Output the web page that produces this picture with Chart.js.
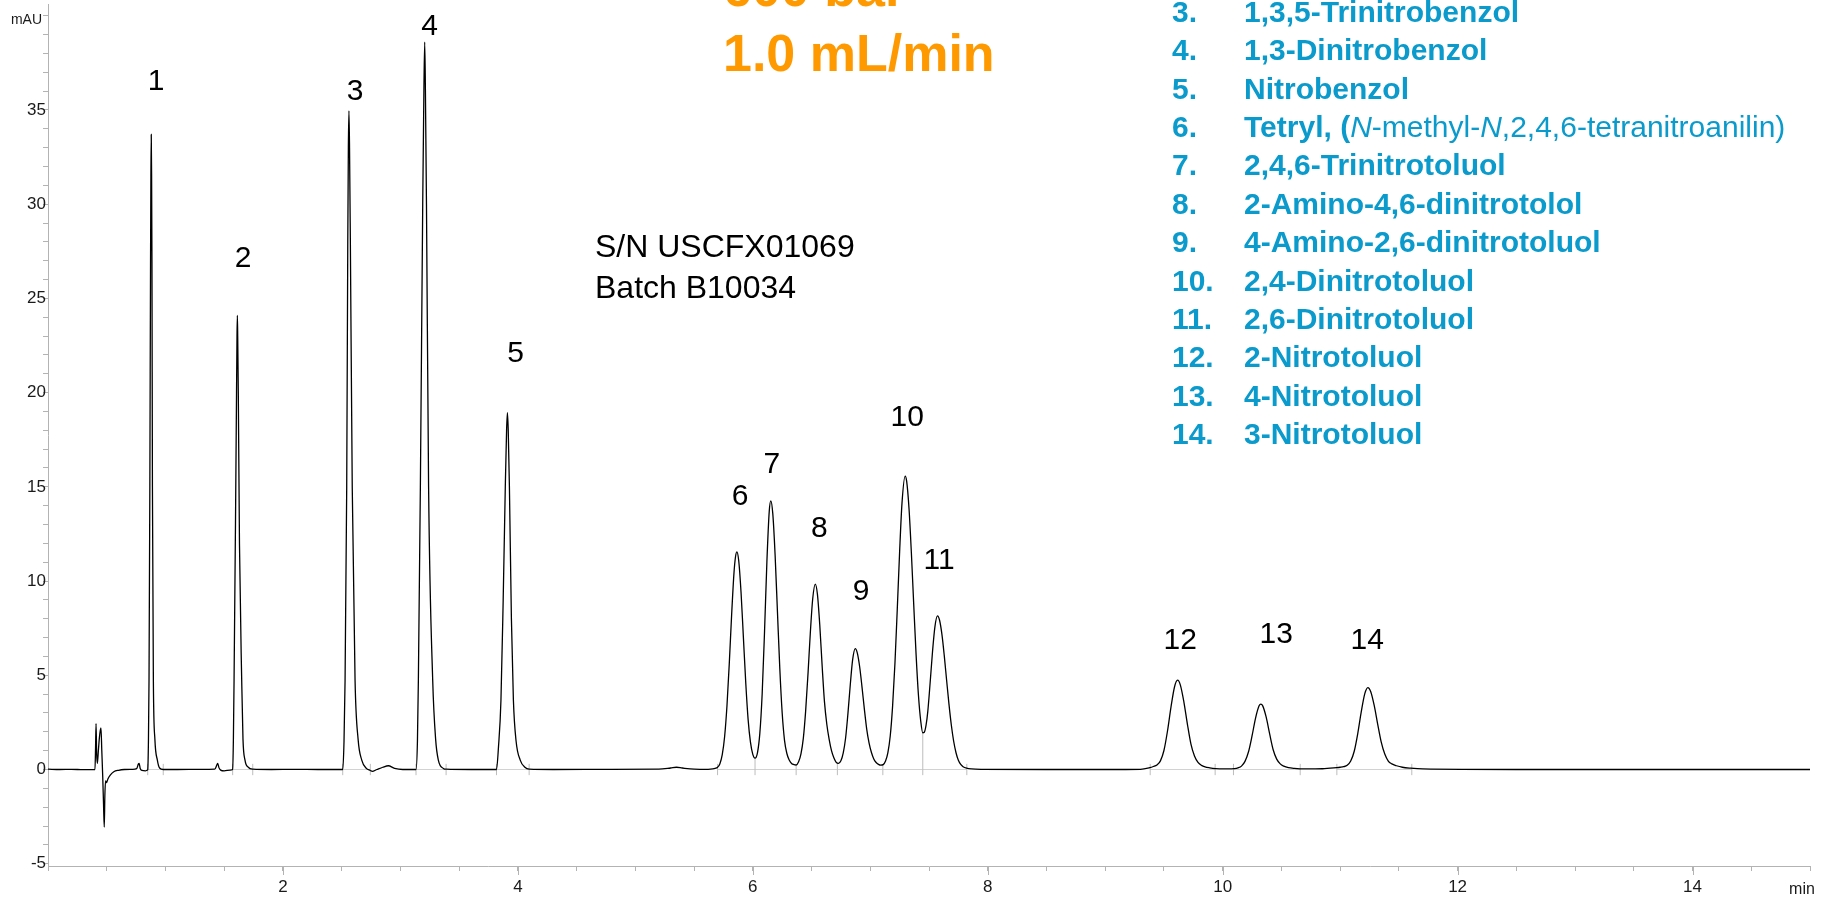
<!DOCTYPE html>
<html>
<head>
<meta charset="utf-8">
<script src="https://cdn.jsdelivr.net/npm/chart.js@4.4.1/dist/chart.umd.min.js"></script>
<style>
  html, body { margin: 0; padding: 0; background: #fff; }
  #wrap { position: relative; width: 1833px; height: 898px; overflow: hidden;
          font-family: "Liberation Sans", Arial, Helvetica, sans-serif; }
  #wrap canvas { position: absolute; left: 0; top: 0; }
  .note { position: absolute; white-space: nowrap; }
  .flow { left: 723px; top: -44.3px; font-size: 52px; line-height: 65.5px;
          font-weight: bold; color: #ff9900; }
  .serial { left: 595px; top: 226.4px; font-size: 32px; line-height: 41px; color: #000; }
  .compounds { left: 1172px; top: -7.3px; font-size: 30px; line-height: 38.4px;
               font-weight: bold; color: #0a9acb; }
  .compounds .num { display: inline-block; width: 72px; }
  .compounds i { font-weight: normal; }
  .compounds .reg { font-weight: normal; }
</style>
</head>
<body>
<div id="wrap">
  <canvas id="chrom" width="1833" height="898"></canvas>

  <div class="note flow">600 bar<br>1.0 mL/min</div>

  <div class="note serial">S/N USCFX01069<br>Batch B10034</div>

  <div class="note compounds">
    <div><span class="num">3.</span>1,3,5-Trinitrobenzol</div>
    <div><span class="num">4.</span>1,3-Dinitrobenzol</div>
    <div><span class="num">5.</span>Nitrobenzol</div>
    <div><span class="num">6.</span>Tetryl, (<i>N</i><span class="reg">-methyl-</span><i>N</i><span class="reg">,2,4,6-tetranitroanilin)</span></div>
    <div><span class="num">7.</span>2,4,6-Trinitrotoluol</div>
    <div><span class="num">8.</span>2-Amino-4,6-dinitrotolol</div>
    <div><span class="num">9.</span>4-Amino-2,6-dinitrotoluol</div>
    <div><span class="num">10.</span>2,4-Dinitrotoluol</div>
    <div><span class="num">11.</span>2,6-Dinitrotoluol</div>
    <div><span class="num">12.</span>2-Nitrotoluol</div>
    <div><span class="num">13.</span>4-Nitrotoluol</div>
    <div><span class="num">14.</span>3-Nitrotoluol</div>
  </div>
</div>

<script>
// ---- Chromatogram trace: [retention time (min), signal (mAU)] ----
const injectionRegion = [
  [0.000, 0.02], [0.100, 0.00], [0.200, 0.01], [0.300, -0.01], [0.400, 0.00],
  [0.405, 1.20], [0.409, 2.44], [0.414, 0.90], [0.420, 0.32], [0.430, 1.10],
  [0.437, 1.65], [0.446, 2.10], [0.451, 2.21], [0.458, 1.00], [0.466, -0.40],
  [0.473, -1.90], [0.479, -3.05], [0.484, -1.40], [0.490, -0.60], [0.498, -0.70],
  [0.510, -0.50], [0.530, -0.30], [0.560, -0.12], [0.600, -0.04], [0.650, 0.00],
  [0.720, 0.01], [0.755, 0.05], [0.770, 0.30], [0.776, 0.32], [0.785, 0.05],
  [0.800, -0.05], [0.830, -0.07], [0.845, -0.03]
];

const earlyPeaks = [
  [0.849, 0.00], [0.855, 1.5], [0.860, 4.74], [0.867, 15.0], [0.873, 27.0],
  [0.876, 31.5], [0.879, 33.7], [0.882, 31.5], [0.885, 27.0], [0.889, 15.0],
  [0.897, 4.74], [0.910, 1.6], [0.931, 0.5], [0.950, 0.08], [0.981, 0.00],
  [1.100, 0.00], [1.300, 0.01], [1.420, 0.02], [1.438, 0.25], [1.445, 0.32],
  [1.455, 0.10], [1.470, -0.03], [1.500, -0.07], [1.550, -0.03],
  [1.572, 0.00], [1.578, 1.5], [1.584, 4.74], [1.596, 13.0], [1.605, 20.0],
  [1.609, 23.0], [1.612, 24.1], [1.615, 23.0], [1.620, 20.0], [1.630, 12.0],
  [1.649, 4.74], [1.660, 1.6], [1.677, 0.5], [1.705, 0.12], [1.743, 0.02],
  [1.900, 0.00], [2.100, 0.01], [2.300, 0.00], [2.480, 0.00],
  [2.509, 0.00], [2.520, 1.5], [2.529, 4.74], [2.543, 15.0], [2.552, 28.0],
  [2.557, 33.0], [2.562, 34.95], [2.567, 33.0], [2.574, 28.0], [2.590, 15.0],
  [2.614, 4.74], [2.640, 1.6], [2.671, 0.5], [2.710, 0.06], [2.744, -0.05],
  [2.760, -0.10], [2.800, 0.00], [2.850, 0.12], [2.897, 0.20], [2.950, 0.06],
  [3.020, 0.00], [3.100, 0.00],
  [3.133, 0.00], [3.145, 1.5], [3.153, 4.74], [3.170, 15.0], [3.190, 30.0],
  [3.200, 36.0], [3.207, 38.6], [3.213, 36.0], [3.222, 30.0], [3.240, 15.0],
  [3.275, 4.74], [3.300, 1.6], [3.323, 0.5], [3.366, 0.06], [3.389, 0.02],
  [3.600, 0.00], [3.790, 0.00],
  [3.818, 0.00], [3.835, 1.2], [3.856, 3.68], [3.875, 9.0], [3.893, 15.0],
  [3.904, 18.0], [3.911, 18.93], [3.918, 18.0], [3.928, 15.0], [3.945, 8.0],
  [3.962, 3.68], [3.985, 1.5], [4.020, 0.5], [4.060, 0.12], [4.096, 0.02]
];

const midPeaks = [
  [4.300, 0.00], [4.800, 0.01], [5.200, 0.02], [5.300, 0.08], [5.350, 0.12],
  [5.400, 0.08], [5.500, 0.02], [5.620, 0.01],
  [5.660, 0.03], [5.680, 0.06], [5.700, 0.12], [5.720, 0.31], [5.740, 0.79],
  [5.760, 1.74], [5.780, 3.37], [5.800, 5.65], [5.820, 8.24], [5.840, 10.45],
  [5.852, 11.25], [5.864, 11.55], [5.880, 11.09], [5.900, 9.39], [5.920, 7.00],
  [5.940, 4.60], [5.960, 2.66], [5.980, 1.45], [6.000, 0.80], [6.019, 0.60],
  [6.040, 0.90], [6.060, 1.93], [6.080, 4.05], [6.100, 7.34], [6.120, 11.03],
  [6.140, 13.70], [6.153, 14.26], [6.170, 13.59], [6.190, 11.37], [6.210, 8.34],
  [6.230, 5.35], [6.250, 3.01], [6.270, 1.55], [6.290, 0.85], [6.310, 0.50],
  [6.330, 0.32], [6.350, 0.26], [6.369, 0.24],
  [6.390, 0.41], [6.410, 0.83], [6.430, 1.65], [6.450, 3.11], [6.470, 5.09],
  [6.490, 7.28], [6.510, 9.06], [6.532, 9.84], [6.550, 9.31], [6.570, 7.68],
  [6.590, 5.53], [6.610, 3.60], [6.630, 2.40], [6.650, 1.60], [6.670, 1.00],
  [6.690, 0.62], [6.710, 0.38], [6.730, 0.33],
  [6.750, 0.46], [6.770, 0.88], [6.790, 1.67], [6.810, 2.98], [6.830, 4.51],
  [6.850, 5.83], [6.872, 6.42], [6.890, 6.18], [6.910, 5.44], [6.930, 4.36],
  [6.950, 3.19], [6.970, 2.13], [6.990, 1.40], [7.010, 0.90], [7.030, 0.56],
  [7.050, 0.37], [7.070, 0.27], [7.090, 0.23], [7.110, 0.26],
  [7.130, 0.45], [7.150, 0.90], [7.170, 1.78], [7.190, 3.35], [7.210, 5.63],
  [7.230, 8.52], [7.250, 11.57], [7.270, 14.12], [7.297, 15.57], [7.310, 15.29],
  [7.330, 13.84], [7.350, 11.49], [7.370, 8.75], [7.390, 6.11], [7.410, 3.95],
  [7.430, 2.55], [7.447, 1.95],
  [7.460, 1.98], [7.475, 2.35], [7.490, 3.10], [7.510, 4.63], [7.530, 6.26],
  [7.550, 7.56], [7.572, 8.15], [7.590, 7.92], [7.610, 7.17], [7.630, 6.04],
  [7.650, 4.74], [7.670, 3.47], [7.690, 2.36], [7.710, 1.50], [7.730, 0.89],
  [7.750, 0.49], [7.770, 0.27], [7.790, 0.15], [7.820, 0.07], [7.860, 0.03],
  [7.950, 0.01], [8.500, 0.00], [9.000, 0.00], [9.300, 0.01]
];

const latePeaks = [
  [9.380, 0.10], [9.410, 0.16], [9.440, 0.24], [9.470, 0.46], [9.500, 1.01],
  [9.530, 2.03], [9.560, 3.31], [9.590, 4.38], [9.616, 4.74], [9.640, 4.48],
  [9.670, 3.58], [9.700, 2.40], [9.730, 1.35], [9.760, 0.72], [9.790, 0.38],
  [9.820, 0.22], [9.850, 0.14], [9.890, 0.09], [9.940, 0.05], [10.000, 0.03],
  [10.050, 0.03], [10.100, 0.05], [10.130, 0.09], [10.160, 0.18], [10.190, 0.43],
  [10.220, 0.94], [10.250, 1.78], [10.280, 2.73], [10.310, 3.38], [10.325, 3.47],
  [10.340, 3.39], [10.370, 2.79], [10.400, 1.89], [10.430, 1.05], [10.460, 0.55],
  [10.490, 0.30], [10.520, 0.18], [10.560, 0.10], [10.610, 0.06], [10.700, 0.03],
  [10.850, 0.04], [10.970, 0.10], [11.000, 0.12], [11.030, 0.15], [11.060, 0.22],
  [11.090, 0.45], [11.120, 0.97], [11.150, 1.91], [11.180, 3.07], [11.210, 4.03],
  [11.236, 4.35], [11.260, 4.14], [11.290, 3.40], [11.320, 2.40], [11.350, 1.45],
  [11.380, 0.82], [11.410, 0.45], [11.440, 0.30], [11.480, 0.20], [11.530, 0.12],
  [11.600, 0.07], [11.700, 0.03], [12.500, 0.00], [13.500, 0.00], [14.500, 0.00],
  [15.000, 0.00]
];

// ---- Peak integration limits (min) and drop lines at unresolved valleys ----
const peakStarts = [0.849, 1.572, 2.509, 3.133, 3.818, 5.700, 6.019, 6.369, 6.720, 7.107, 7.447, 9.383, 10.092, 10.972];
const peakEnds   = [0.981, 1.743, 2.744, 3.389, 4.096, 6.019, 6.369, 6.720, 7.107, 7.447, 7.822, 9.936, 10.660, 11.610];
const valleyDrops = [[6.019, 0.60], [6.369, 0.24], [6.720, 0.35], [7.107, 0.25], [7.447, 1.95]];

// ---- Peak numbering and where each number sits (min, mAU at text baseline) ----
const peakNumbers  = ['1', '2', '3', '4', '5', '6', '7', '8', '9', '10', '11', '12', '13', '14'];
const labelTimes   = [0.920, 1.660, 2.614, 3.248, 3.980, 5.892, 6.162, 6.567, 6.922, 7.314, 7.586, 9.638, 10.456, 11.230];
const labelHeights = [36.08, 26.69, 35.53, 38.98, 21.62, 14.03, 15.74, 12.33, 8.99, 18.22, 10.63, 6.39, 6.70, 6.39];

// ---- Axis tick labels and units ----
const timeLabels   = [2, 4, 6, 8, 10, 12, 14];
const signalLabels = [-5, 0, 5, 10, 15, 20, 25, 30, 35];
const timeUnit = 'min';
const signalUnit = 'mAU';

// ---------------------------------------------------------------------------
const FONT = '"Liberation Sans", Arial, Helvetica, sans-serif';
Chart.defaults.font.family = FONT;

const toXY = arr => arr.map(([x, y]) => ({ x, y }));
const trace = toXY([...injectionRegion, ...earlyPeaks, ...midPeaks, ...latePeaks]);

const baselineSegments = [];
peakStarts.forEach((s, i) => {
  baselineSegments.push({ x: s, y: 0 }, { x: peakEnds[i], y: 0 }, { x: peakEnds[i], y: null });
});

const delimiterSegments = [];
[...new Set([...peakStarts, ...peakEnds])].sort((a, b) => a - b).forEach(t => {
  const drop = valleyDrops.find(d => Math.abs(d[0] - t) < 1e-9);
  const top = drop ? Math.max(drop[1], 0.3) : 0.3;
  delimiterSegments.push({ x: t, y: -0.3 }, { x: t, y: top }, { x: t, y: null });
});

const near = (a, b) => Math.abs(a - b) < 1e-6;
const isTimeLabel = v => timeLabels.some(t => near(t, v));

const AXIS_GREY = '#b3b3b3';
const LABEL_COLOR = '#1a1a1a';

const annotationPlugin = {
  id: 'chromAnnotations',
  afterDatasetsDraw(chart) {
    const { ctx, chartArea, scales: { x, y } } = chart;
    ctx.save();
    // longer marks under the labelled time ticks
    ctx.strokeStyle = AXIS_GREY;
    ctx.lineWidth = 1;
    x.ticks.forEach(t => {
      if (isTimeLabel(t.value)) {
        const px = Math.round(x.getPixelForValue(t.value)) + 0.5;
        ctx.beginPath();
        ctx.moveTo(px, chartArea.bottom);
        ctx.lineTo(px, chartArea.bottom + 9);
        ctx.stroke();
      }
    });
    // axis units
    ctx.fillStyle = LABEL_COLOR;
    ctx.textBaseline = 'middle';
    ctx.font = '14px ' + FONT;
    ctx.textAlign = 'right';
    ctx.fillText(signalUnit, chartArea.left - 6, y.getPixelForValue(40) + 4);
    ctx.font = '16px ' + FONT;
    ctx.textAlign = 'center';
    ctx.fillText(timeUnit, chartArea.right - 8, chartArea.bottom + 24);
    // peak numbers
    ctx.font = '30px ' + FONT;
    ctx.fillStyle = '#000';
    ctx.textAlign = 'center';
    ctx.textBaseline = 'alphabetic';
    peakNumbers.forEach((n, i) => {
      ctx.fillText(n, x.getPixelForValue(labelTimes[i]), y.getPixelForValue(labelHeights[i]));
    });
    ctx.restore();
  }
};

new Chart(document.getElementById('chrom'), {
  type: 'line',
  data: {
    datasets: [
      {
        label: 'UV signal',
        data: trace,
        borderColor: '#000',
        borderWidth: 1.3,
        pointRadius: 0,
        cubicInterpolationMode: 'monotone',
        order: 0
      },
      {
        label: 'Peak baselines',
        data: baselineSegments,
        borderColor: '#d2d2d2',
        borderWidth: 1,
        pointRadius: 0,
        spanGaps: false,
        order: 2
      },
      {
        label: 'Peak delimiters',
        data: delimiterSegments,
        borderColor: '#bdbdbd',
        borderWidth: 1,
        pointRadius: 0,
        spanGaps: false,
        order: 1
      }
    ]
  },
  options: {
    responsive: false,
    animation: false,
    devicePixelRatio: 1,
    layout: { autoPadding: false, padding: { left: 0, right: 23, top: 4.4, bottom: 0 } },
    plugins: { legend: { display: false }, tooltip: { enabled: false } },
    scales: {
      x: {
        type: 'linear',
        min: 0,
        max: 15,
        border: { color: AXIS_GREY, width: 1 },
        grid: { drawOnChartArea: false, drawTicks: true, tickLength: 5, tickColor: AXIS_GREY },
        ticks: {
          stepSize: 0.5,
          autoSkip: false,
          maxRotation: 0,
          minRotation: 0,
          includeBounds: false,
          padding: 6,
          color: LABEL_COLOR,
          font: { family: FONT, size: 17 },
          callback: v => isTimeLabel(v) ? String(Math.round(v)) : ''
        },
        afterFit: s => { s.height = 32; s.paddingLeft = 0; s.paddingRight = 0; }
      },
      y: {
        type: 'linear',
        min: -5.12,
        max: 40.6,
        border: { color: AXIS_GREY, width: 1 },
        grid: { drawOnChartArea: false, drawTicks: true, tickLength: 5, tickColor: AXIS_GREY },
        ticks: {
          stepSize: 1,
          autoSkip: false,
          includeBounds: false,
          padding: -3,
          color: LABEL_COLOR,
          font: { family: FONT, size: 17 },
          callback: v => signalLabels.some(s => near(s, v)) ? String(Math.round(v)) : ''
        },
        afterFit: s => { s.width = 48; s.paddingTop = 0; s.paddingBottom = 0; }
      }
    }
  },
  plugins: [annotationPlugin]
});
</script>
</body>
</html>
